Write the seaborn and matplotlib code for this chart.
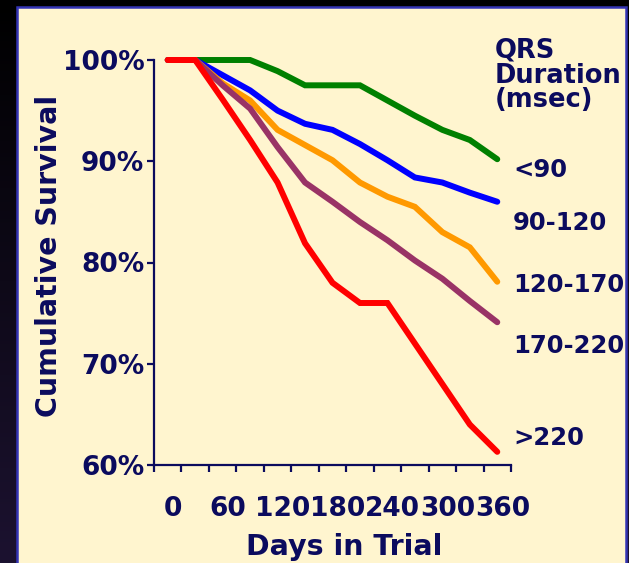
import numpy as np
import pandas as pd
import matplotlib
matplotlib.use("Agg")
import matplotlib.pyplot as plt
import matplotlib.transforms as mtransforms
from matplotlib.patches import Rectangle
import seaborn as sns

# ---- data ----
days = [0, 30, 60, 90, 120, 150, 180, 210, 240, 270, 300, 330, 360]
groups = ["<90", "90-120", "120-170", "170-220", ">220"]
surv_lt90 = [100, 100, 100, 100, 98.9, 97.5, 97.5, 97.5, 96.0, 94.5, 93.1, 92.1, 90.2]
surv_90_120 = [100, 100, 98.5, 97.0, 95.0, 93.7, 93.1, 91.7, 90.1, 88.4, 87.9, 86.9, 86.0]
surv_120_170 = [100, 100, 97.7, 96.0, 93.1, 91.6, 90.1, 87.9, 86.5, 85.5, 83.0, 81.5, 78.1]
surv_170_220 = [100, 100, 97.5, 95.2, 91.4, 87.9, 86.0, 84.0, 82.2, 80.2, 78.4, 76.2, 74.1]
surv_gt220 = [100, 100, 96.1, 92.1, 87.9, 81.9, 78.0, 76.0, 76.0, 72.0, 68.0, 64.0, 61.3]
xtick_values = [0, 60, 120, 180, 240, 300, 360]
ytick_values = [60, 70, 80, 90, 100]
colors = ["#008000", "#0000FF", "#FF9900", "#993366", "#FF0000"]

series = [surv_lt90, surv_90_120, surv_120_170, surv_170_220, surv_gt220]
df = pd.DataFrame({
    "Days": np.tile(days, len(groups)),
    "Survival": np.concatenate(series),
    "QRS": np.repeat(groups, len(days)),
})

sns.set_theme(style="ticks")
plt.rcParams["font.family"] = ["DejaVu Sans"]

W, H = 629, 563
fig = plt.figure(figsize=(W / 100, H / 100), dpi=100)
fig.patch.set_facecolor("#000000")

# dark gradient background
bg = fig.add_axes([0, 0, 1, 1], zorder=-10)
grad = np.linspace(0, 1, 256).reshape(-1, 1)
from matplotlib.colors import LinearSegmentedColormap
cmap = LinearSegmentedColormap.from_list("bg", ["#000000", "#1c1230"])
bg.imshow(grad, aspect="auto", cmap=cmap, extent=[0, 1, 0, 1], origin="upper")
bg.set_axis_off()

# cream panel
panel = Rectangle((17 / W, -0.05), (626 - 17) / W, (H - 7) / H + 0.05,
                  transform=fig.transFigure, facecolor="#FFF5CF",
                  edgecolor="#3434B4", linewidth=1.8, zorder=-5)
fig.patches.append(panel)

navy = "#0B0B5E"

ax = fig.add_axes([154 / W, 1 - 465 / H, (511 - 154) / W, (465 - 60) / H])
ax.set_facecolor("none")
sns.lineplot(data=df, x="Days", y="Survival", hue="QRS", hue_order=groups,
             palette=colors, linewidth=4.3, ax=ax, legend=False,
             solid_joinstyle="miter")
for ln in ax.lines:
    ln.set_clip_on(False)

ax.set_xlim(-15, 375)
ax.set_ylim(60, 100)
ax.set_xticks(np.arange(-15, 376, 30))
ax.set_xticklabels([])
ax.set_yticks(ytick_values)
ax.set_yticklabels([f"{v}%" for v in ytick_values], fontsize=19,
                   fontweight="bold", color=navy)
for s in ["top", "right"]:
    ax.spines[s].set_visible(False)
for s in ["left", "bottom"]:
    ax.spines[s].set_color(navy)
    ax.spines[s].set_linewidth(1.6)
ax.tick_params(axis="both", color=navy, width=1.6, length=5)
ax.tick_params(axis="y", pad=2)
ax.set_xlabel("")
ax.set_ylabel("")

# x tick labels at data positions (slightly offset right like the original)
off = mtransforms.ScaledTranslation(5 / 100, 0, fig.dpi_scale_trans)
for v in xtick_values:
    ax.text(v, 1 - 516 / H, str(v), transform=mtransforms.blended_transform_factory(
        ax.transData, fig.transFigure) + off, ha="center", va="baseline",
        fontsize=19, fontweight="bold", color=navy)

fig.text(344 / W, 1 - 555 / H, "Days in Trial", ha="center", va="baseline",
         fontsize=20.5, fontweight="bold", color=navy)
fig.text(49 / W, 1 - 256 / H, "Cumulative Survival", rotation=90, ha="center",
         va="center", fontsize=20.5, fontweight="bold", color=navy)

# legend title
for txt, base in [("QRS", 58), ("Duration", 83), ("(msec)", 107)]:
    fig.text(495 / W, 1 - base / H, txt, ha="left", va="baseline",
             fontsize=18.5, fontweight="bold", color=navy)

# series labels
label_baselines = [177, 230, 292, 353, 445]
for g, base in zip(groups, label_baselines):
    fig.text(513 / W, 1 - base / H, g, ha="left", va="baseline",
             fontsize=17.5, fontweight="bold", color=navy)

fig.savefig("out.png", dpi=100, facecolor=fig.get_facecolor())
